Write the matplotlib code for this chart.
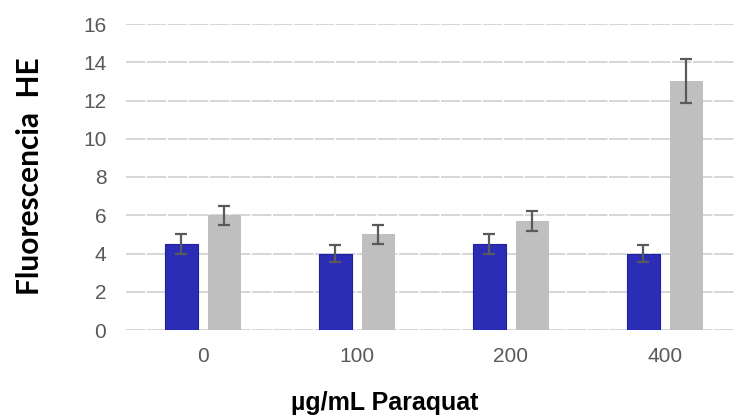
import matplotlib
matplotlib.use("Agg")
import matplotlib.pyplot as plt
import numpy as np

# Paraquat concentrations (µg/mL) and HE fluorescence per condition
categories = ["0", "100", "200", "400"]
series_a = [4.5, 4.0, 4.5, 4.0]
series_a_err = [0.5, 0.45, 0.5, 0.45]
series_b = [6.0, 5.0, 5.7, 13.0]
series_b_err = [0.5, 0.5, 0.5, 1.15]
y_ticks = [0, 2, 4, 6, 8, 10, 12, 14, 16]

W, H = 735, 417
fig = plt.figure(figsize=(W / 100, H / 100), dpi=100)
left_px, right_px = 125.7, 742.0
bottom_px, top_px = 330.0, 24.0
ax = fig.add_axes([left_px / W, (H - bottom_px) / H,
                   (right_px - left_px) / W, (bottom_px - top_px) / H])

x = np.arange(len(categories))
width = 0.215
offset = 0.14

ax.bar(x - offset, series_a, width, color="#2b2db6", edgecolor="#1f20a0",
       linewidth=0.8, zorder=3)
ax.bar(x + offset, series_b, width, color="#bfbfbf", zorder=3)
err_kw = dict(fmt="none", ecolor="#5a5a5a", elinewidth=1.6, capsize=4.6,
              capthick=1.6, zorder=4)
ax.errorbar(x - offset, series_a, yerr=series_a_err, **err_kw)
ax.errorbar(x + offset, series_b, yerr=series_b_err, **err_kw)

ax.set_xlim(-0.5, -0.5 + (right_px - left_px) / 154.0)
ax.set_ylim(0, 16)
ax.set_yticks(y_ticks)
ax.set_xticks(x)
ax.set_xticklabels(categories)

for s in ax.spines.values():
    s.set_visible(False)
ax.tick_params(axis="both", length=0, labelsize=15, colors="#595959")
ax.tick_params(axis="y", pad=14)
ax.tick_params(axis="x", pad=12)
for lab in ax.get_xticklabels() + ax.get_yticklabels():
    lab.set_family("Liberation Sans")

ax.yaxis.grid(True, color="#d6d6d6", linewidth=1.4, linestyle=(0, (10, 0.8)),
              zorder=0)
ax.set_axisbelow(True)

fig.text(385 / W, (H - 403) / H, "µg/mL Paraquat", ha="center", va="center",
         fontsize=18, fontweight="bold", family="Liberation Sans")
fig.text(30 / W, (H - 176) / H, "Fluorescencia  HE", ha="center",
         va="center", rotation=90, fontsize=21.5, fontweight="bold",
         family="Lato")

fig.savefig("out.png", dpi=100)
